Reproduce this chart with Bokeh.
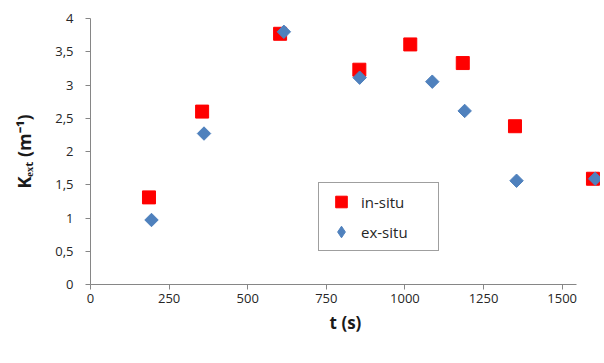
import math
from bokeh.plotting import figure
from bokeh.models import Legend, LegendItem
from bokeh.embed import file_html
from bokeh.resources import INLINE

# data
t_insitu = [186, 355, 603, 855, 1017, 1184, 1350, 1598]
k_insitu = [1.31, 2.60, 3.77, 3.23, 3.61, 3.33, 2.38, 1.59]
t_exsitu = [194, 361, 615, 856, 1087, 1190, 1355, 1605]
k_exsitu = [0.97, 2.27, 3.80, 3.11, 3.05, 2.61, 1.56, 1.59]
xticks = [0, 250, 500, 750, 1000, 1250, 1500]
yticks = [0, 0.5, 1, 1.5, 2, 2.5, 3, 3.5, 4]
ylabels = ["0", "0,5", "1", "1,5", "2", "2,5", "3", "3,5", "4"]

FONT = "Open Sans"
RED = "#FF0000"
BLUE = "#4F81BD"

p = figure(width=600, height=355, output_backend="svg", toolbar_location=None,
           x_range=(0, 1622), y_range=(0, 4.0),
           min_border_left=90, min_border_top=18, min_border_bottom=71, min_border_right=0)
p.outline_line_color = None
p.grid.grid_line_color = None
p.background_fill_color = "white"

r1 = p.scatter(t_insitu, k_insitu, marker="square", size=13, color=RED, line_color=RED)
# legend key for ex-situ: a diamond hidden under each rotated square
# (Bokeh draws legend keys unrotated)
r2_key = p.scatter(t_exsitu, k_exsitu, marker="diamond", size=10, color=BLUE, line_color=BLUE)
r2 = p.scatter(t_exsitu, k_exsitu, marker="square", size=9.5, angle=math.pi / 4,
               color=BLUE, line_color=BLUE)

for ax in (p.xaxis[0], p.yaxis[0]):
    ax.axis_line_color = "#868686"
    ax.major_tick_line_color = "#868686"
    ax.major_tick_in = 0
    ax.major_tick_out = 5
    ax.minor_tick_line_color = None
    ax.major_label_text_font = FONT
    ax.major_label_text_font_size = "13px"
    ax.major_label_text_color = "#262626"
    ax.axis_label_text_font = FONT
    ax.axis_label_text_font_style = "bold"
    ax.axis_label_text_color = "#1a1a1a"

p.xaxis.ticker = xticks
p.xaxis.bounds = (0, 1545)
p.xaxis.major_label_standoff = 4
p.xaxis.axis_label = "t (s)"
p.xaxis.axis_label_text_font_size = "17px"
p.xaxis.axis_label_standoff = 5

p.yaxis.ticker = yticks
p.yaxis.major_label_overrides = {v: l for v, l in zip(yticks, ylabels)}
p.yaxis.major_label_standoff = 12
p.yaxis.axis_label = "Kₑₓₜ (m⁻¹)"
p.yaxis.axis_label_text_font_size = "18px"
p.yaxis.axis_label_standoff = 16

legend = Legend(items=[LegendItem(label="in-situ", renderers=[r1]),
                       LegendItem(label="ex-situ", renderers=[r2_key])],
                location=(228, 33))
legend.border_line_color = "#404040"
legend.border_line_width = 1.5
legend.padding = 4
legend.spacing = 1
legend.label_text_font = FONT
legend.label_text_font_size = "15px"
legend.label_text_color = "#262626"
legend.glyph_width = 36
legend.glyph_height = 29
legend.label_height = 29
legend.label_width = 73
legend.label_standoff = 2
legend.margin = 0
p.add_layout(legend, "center")

open("out.html", "w").write(file_html(p, INLINE))
